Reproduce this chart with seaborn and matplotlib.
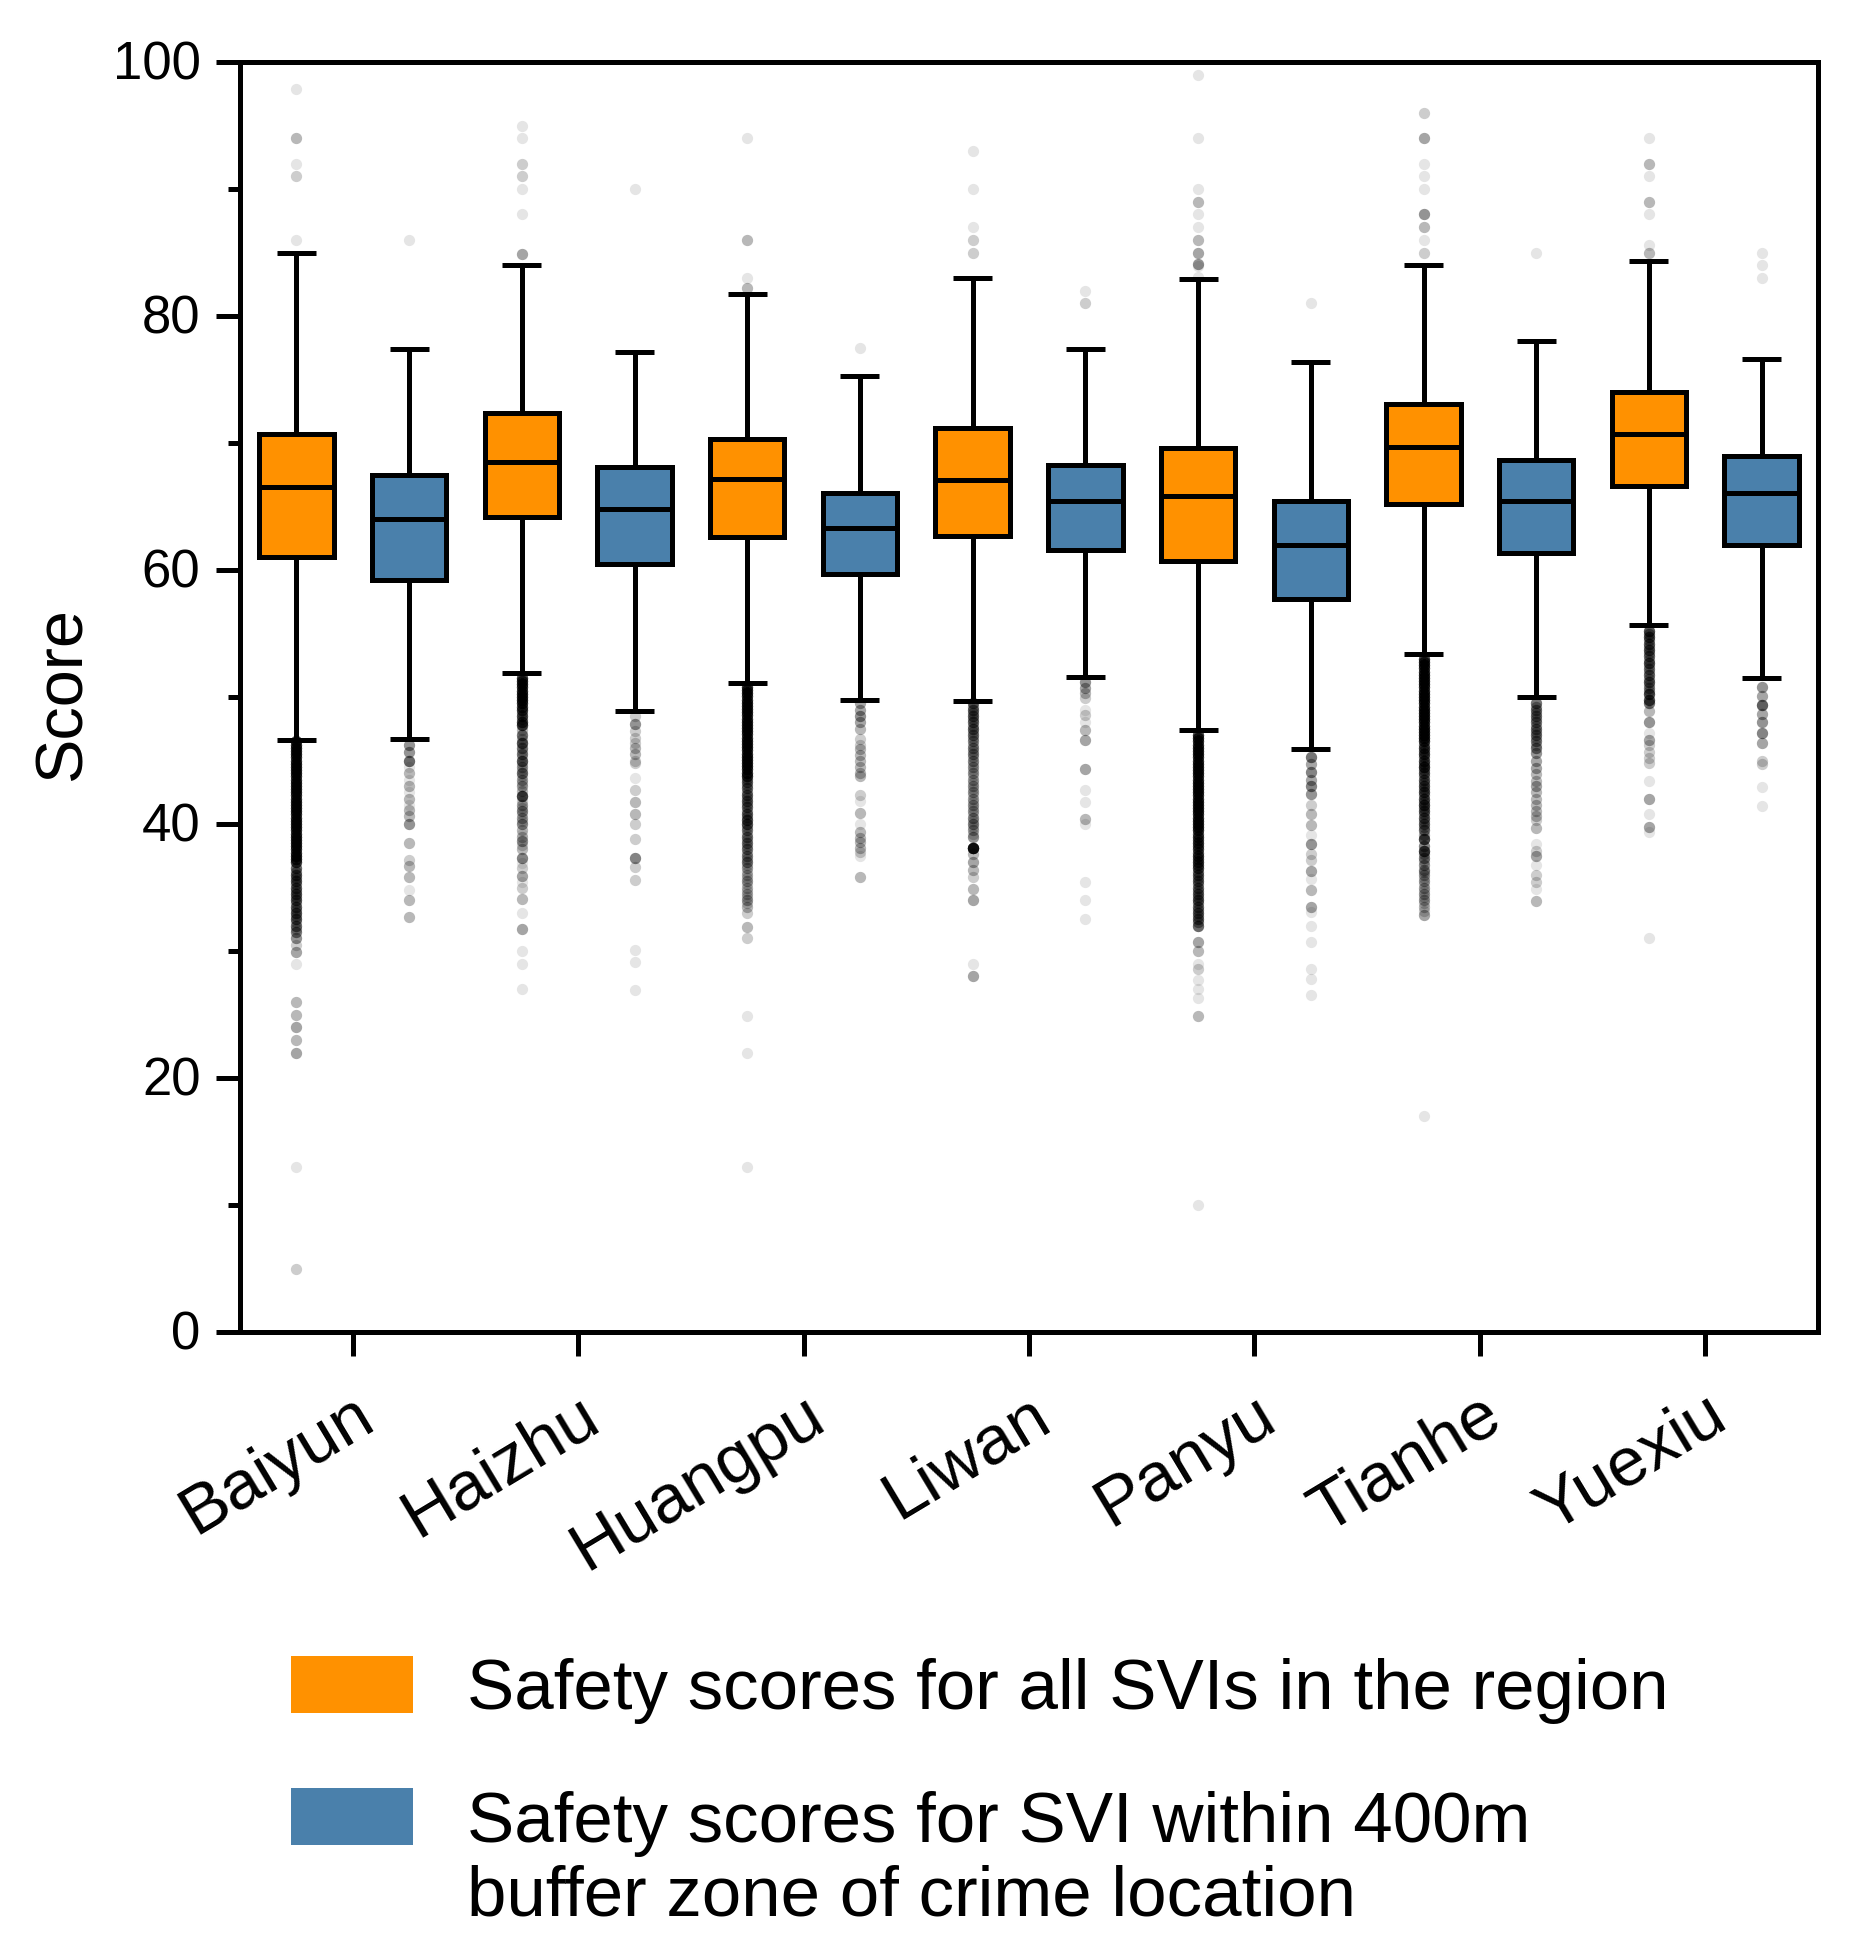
import numpy as np
import pandas as pd
import matplotlib
matplotlib.use("Agg")
import matplotlib.pyplot as plt
from matplotlib.patches import Patch
from matplotlib.ticker import MultipleLocator
from matplotlib.transforms import ScaledTranslation
import seaborn as sns

districts = ["Baiyun", "Haizhu", "Huangpu", "Liwan", "Panyu", "Tianhe", "Yuexiu"]
groups = ["all", "buffer"]
labels = ["Safety scores for all SVIs in the region",
          "Safety scores for SVI within 400m\nbuffer zone of crime location"]
colors = ["#FF9100", "#4A80AB"]

all_hi = [85.0, 84.0, 81.7, 83.0, 82.9, 84.0, 84.3]
all_q3 = [70.7, 72.4, 70.3, 71.2, 69.6, 73.1, 74.0]
all_med = [66.5, 68.5, 67.2, 67.1, 65.8, 69.7, 70.7]
all_q1 = [61.0, 64.2, 62.6, 62.7, 60.7, 65.2, 66.6]
all_lo = [46.6, 51.9, 51.1, 49.7, 47.4, 53.4, 55.7]

buf_hi = [77.4, 77.2, 75.3, 77.4, 76.4, 78.0, 76.6]
buf_q3 = [67.5, 68.1, 66.1, 68.3, 65.4, 68.7, 69.0]
buf_med = [64.0, 64.8, 63.3, 65.4, 62.0, 65.4, 66.1]
buf_q1 = [59.2, 60.5, 59.7, 61.6, 57.7, 61.3, 62.0]
buf_lo = [46.7, 48.9, 49.8, 51.6, 45.9, 50.0, 51.5]

# (score, number of overlapping points) read from the density of each dot
out_baiyun_all = [(97.9,1),(94,3),(92,1),(91,2),(86,1),
    (46.5,12),(46.25,12),(46,12),(45.75,12),(45.5,12),(45.25,12),(45,12),(44.75,12),(44.5,12),(44.25,12),
    (44,12),(43.75,12),(43.5,12),(43.25,12),(43,12),(42.75,12),(42.5,12),(42.25,12),(42,12),(41.75,12),
    (41.5,12),(41.25,12),(41,12),(40.75,12),(40.5,12),(40.25,12),(40,12),(39.75,12),(39.5,12),(39.25,12),
    (39,12),(38.75,12),(38.5,12),(38.25,12),(38,12),(37.75,12),(37.5,12),(37.25,12),(37,12),
    (36.5,8),(36.25,5),(36,8),(35.75,5),(35.5,8),(35.25,5),(35,8),(34.75,5),(34.5,8),(34.25,5),(34,8),(33.75,4),
    (33.5,8),(33.25,4),(33,8),(32.75,4),(32.5,8),(32.25,3),(32,7),(31.75,3),(31.5,6),
    (31,5),(30.5,2),(29.9,4),(29,1),(26,3),(25,3),(24,4),(23,3),(22,4),(13,1),(5,2)]
out_baiyun_buf = [(86,1),(46.2,5),(45.7,5),(45,8),(44.5,1),(44,3),(43.5,1),(43,3),(42.5,1),(42,3),(41.5,1),(41.1,3),(40.6,3),(40,5),
    (38.5,3),(37.2,2),(36.7,3),(35.8,3),(34.8,1),(34,3),(32.7,3)]
out_haizhu_all = [(95,1),(94,1),(92,2),(91,2),(90,1),(88,1),(84.9,4),
    (51.5,12),(51.25,12),(51,12),(50.75,12),(50.5,12),(50.25,12),(50,12),(49.75,12),(49.5,12),(49.25,10),
    (49,10),(48.75,4),(48.5,9),(48.25,4),(48,10),(47.8,12),(47.4,3),(47,7),(46.7,3),(46.4,10),
    (46,6),(45.75,2),(45.5,6),(45.25,2),(45,9),(44.75,2),(44.5,4),(44.25,2),(44,7),(43.75,2),(43.5,4),(43.25,2),(43,4),(42.6,3),(42.2,12),
    (41.8,2),(41.5,4),(41.25,2),(41,5),(40.75,2),(40.5,4),(40.25,2),(40,5),
    (39.5,3),(39.25,1),(39,3),(38.7,5),(38.35,2),(38,3),(37.3,6),(36.9,1),(36.5,2),(35.9,4),(35.45,1),(35,2),(34.1,3),(33,1),(31.7,4),(30,1),(29,1),(27,1)]
out_haizhu_buf = [(90,1),(48.5,2),(47.9,5),(47.3,2),(46.8,2),(46.4,2),(46,3),(45.5,3),(45,2),(44.8,2),
    (43.6,1),(42.7,2),(41.7,3),(40.8,3),(40,2),(38.8,2),(37.3,6),(36.6,2),(35.6,2),(30.1,1),(29.1,1),(26.9,1)]
out_huangpu_all = [(94,1),(86,3),(83,1),(82.2,3),
    (50.8,12),(50.55,12),(50.3,12),(50.05,12),(49.8,12),(49.55,12),(49.3,12),(49.05,12),(48.8,12),(48.55,12),
    (48.3,12),(48.05,12),(47.8,12),(47.55,12),(47.3,12),(47.05,12),(46.8,12),(46.55,12),(46.3,12),(46.05,12),
    (45.8,12),(45.55,12),(45.3,12),(45.05,12),(44.8,12),(44.55,12),(44.3,12),(44.05,12),
    (43.8,12),(43.55,5),(43.3,7),(43.05,4),(42.8,7),(42.55,4),(42.3,7),(42.05,4),(41.8,7),(41.55,4),(41.3,7),(41.05,4),
    (40.8,7),(40.55,4),(40.3,9),(40,9),(39.75,3),(39.5,6),(39.25,3),(39,6),(38.75,3),(38.5,6),(38.25,3),(38,6),(37.75,3),
    (37.5,5),(37.25,3),(37,6),(36.75,2),(36.5,4),(36.25,2),(36,3),(35.75,2),(35.5,4),(35.25,2),
    (35,3),(34.75,2),(34.5,3),(34.25,2),(34,4),(33.75,2),(33.5,3),(33,2),(31.9,3),(31,2),(24.9,1),(22,1),(13,1)]
out_huangpu_buf = [(77.5,1),(49.5,4),(49,4),(48.5,5),(48,4),(47.5,3),(46.7,2),(46.2,2),(45.9,3),(45.4,3),
    (45,3),(44.5,3),(44,3),(43.8,3),(42.3,2),(41.8,1),(40.9,3),(40,1),(39.4,3),(38.9,3),(38.6,3),(38.1,3),
    (37.8,2),(37.5,1),(35.8,3)]
out_liwan_all = [(93,1),(90,1),(87,1),(86,2),(85,2),
    (49.5,7),(49.25,4),(49,7),(48.75,4),(48.5,7),(48.25,4),(48,7),(47.75,4),(47.5,7),(47.25,3),(47,6),(46.75,3),(46.5,5),(46.25,3),
    (46,5),(45.75,3),(45.5,5),(45.25,3),(45,5),(44.75,2),(44.5,4),(44.25,2),(44,4),
    (43.75,2),(43.5,4),(43.25,2),(43,4),(42.75,2),(42.5,4),(42.25,2),(42,4),(41.75,2),(41.5,4),(41.25,2),(41,4),(40.75,2),(40.5,5),(40.25,2),
    (40,5),(39.75,2),(39.5,4),(39.25,2),(39,5),(38.1,25),
    (37.6,3),(37,4),(36.4,3),(35.8,2),(34.9,3),(34,4),(29,1),(28,4)]
out_liwan_buf = [(82,1),(81,2),(51.2,5),(50.7,4),(50.3,3),(49.9,2),(49,1),(48.6,2),(48,1),(47.4,3),(46.6,4),
    (44.3,4),(42.7,1),(41.7,1),(40.4,3),(40,1),(35.4,1),(34,1),(32.5,1)]
out_panyu_all = [(99,1),(94,1),(90,1),(89,3),(88,1),(87,1),(86,3),(85,4),(84.1,5),(83.9,1),(83.1,1),
    (47,12),(46.75,12),(46.5,12),(46.25,12),(46,12),(45.75,12),(45.5,12),(45.25,12),(45,12),(44.75,12),
    (44.5,12),(44.25,12),(44,12),(43.75,12),(43.5,12),(43.25,12),(43,12),(42.75,12),(42.5,12),(42.25,12),
    (42,12),(41.75,12),(41.5,12),(41.25,12),(41,12),(40.75,12),(40.5,12),(40.25,12),(40,12),(39.75,12),
    (39.5,12),(39.25,8),(39,10),(38.75,8),(38.5,10),(38.25,8),(38,10),(37.75,8),(37.5,10),(37.25,8),(37,10),(36.75,8),(36.5,10),(36.25,6),
    (36,7),(35.75,5),(35.5,7),(35.25,5),(35,7),(34.75,5),(34.5,7),(34.25,5),(34,8),(33.75,5),(33.5,7),(33.25,5),(33,7),(32.75,5),(32.5,7),(32.25,5),
    (32,8),(30.7,4),(30,3),(29,1),(28.6,2),
    (27.7,1),(27,1),(26.3,1),(24.9,3),(10,1)]
out_panyu_buf = [(81,1),(45.3,7),(44.7,4),(44.1,6),(43.5,4),(43,6),(42.4,5),(41.5,2),(40.8,3),(39.9,3),(39.1,1),
    (38.4,5),(37.6,2),(37.2,2),(36.3,4),(35.7,1),(34.8,3),(33.5,4),(33.1,1),(32,1),(30.7,1),(28.6,1),(27.8,1),(26.5,1)]
out_tianhe_all = [(96,2),(94,4),(92,1),(91,1),(90,1),(88,5),(87,3),(86,1),(85,2),
    (53,12),(52.75,12),(52.5,12),(52.25,12),(52,12),(51.75,12),(51.5,12),(51.25,12),(51,12),(50.75,12),
    (50.5,12),(50.25,12),(50,12),(49.75,12),(49.5,12),(49.25,12),(49,12),(48.75,12),(48.5,12),(48.25,12),
    (48,12),(47.75,12),(47.5,12),(47.25,12),(47,12),(46.75,12),
    (46.5,12),(46.25,6),(46,10),(45.75,6),(45.5,10),(45.25,6),(45,10),(44.75,6),(44.5,12),(44.25,5),(44,8),(43.75,5),(43.5,8),(43.25,5),(43,8),(42.75,5),
    (42.5,9),(42.25,5),(42,9),(41.75,5),(41.5,10),(41.25,5),(41,8),(40.75,5),(40.5,8),(40.25,4),(40,7),(39.75,4),(39.5,7),(39.15,4),(38.8,12),
    (38.3,6),(37.9,12),(37.6,4),(37.3,6),(37.05,3),(36.8,5),(36.4,5),(36.2,3),
    (36,4),(35.75,2),(35.5,4),(35.25,2),(35,4),(34.75,2),(34.5,4),(34.25,2),(34,4),(33.75,2),(33.5,3),(33.15,2),(32.8,4),(17,1)]
out_tianhe_buf = [(85,1),(49.5,7),(49.25,4),(49,6),(48.75,4),(48.5,6),(48.25,4),(48,6),(47.75,4),(47.5,6),(47.25,4),(47,6),(46.75,3),(46.5,6),(46.25,3),(46,6),
    (45.6,5),(45,4),(44.4,4),
    (43.9,3),(43.4,3),(43,4),(42.5,3),(42,3),(41.5,3),(41,3),(40.6,3),(40.3,2),(39.7,3),(38.4,1),(37.9,2),(37.5,4),
    (36.8,1),(36,2),(35.4,2),(34.9,1),(33.9,3)]
out_yuexiu_all = [(94,1),(92,3),(91,1),(89,3),(88,1),(85.6,1),(85,3),
    (55.2,10),(54.95,5),(54.7,9),(54.45,5),(54.2,8),(53.95,4),(53.7,8),(53.45,4),(53.2,7),(52.95,4),(52.7,9),(52.45,3),(52.2,6),(51.95,3),
    (51.7,7),(51.45,4),(51.2,8),(50.95,3),(50.7,5),(50.45,4),(50.2,10),
    (49.8,10),(49.5,7),(48.9,3),(48,5),(47.2,1),(46.6,4),(46.2,2),(45.7,2),(45.2,2),(44.8,2),(43.4,1),(42,4),
    (40.8,1),(39.8,4),(39.4,1),(31,1)]
out_yuexiu_buf = [(85,1),(84,1),(83,1),(50.8,5),(50.1,4),(49.4,9),(48.7,4),(48,5),(47.2,6),(46.4,4),
    (45,2),(44.7,2),(42.9,1),(41.4,1)]

out_all = [out_baiyun_all, out_haizhu_all, out_huangpu_all, out_liwan_all,
           out_panyu_all, out_tianhe_all, out_yuexiu_all]
out_buf = [out_baiyun_buf, out_haizhu_buf, out_huangpu_buf, out_liwan_buf,
           out_panyu_buf, out_tianhe_buf, out_yuexiu_buf]

sns.set_theme(style="white")
plt.rcParams["font.family"] = ["Liberation Sans", "DejaVu Sans"]
plt.rcParams["text.color"] = "black"
plt.rcParams["axes.labelcolor"] = "black"
plt.rcParams["xtick.color"] = "black"
plt.rcParams["ytick.color"] = "black"

DPI = 100
W, H = 1858, 1947
L, R, T, B = 240, 1818, 62, 1332
LW = 3.6

box_rows = []
for i, d in enumerate(districts):
    for v in (all_lo[i], all_q1[i], all_med[i], all_q3[i], all_hi[i]):
        box_rows.append((d, groups[0], v))
    for v in (buf_lo[i], buf_q1[i], buf_med[i], buf_q3[i], buf_hi[i]):
        box_rows.append((d, groups[1], v))
box_df = pd.DataFrame(box_rows, columns=["district", "group", "score"])

out_rows = []
for i in range(len(districts)):
    for off, series in ((-0.25, out_all[i]), (0.25, out_buf[i])):
        for v, n in series:
            out_rows.extend([(i + off, v)] * n)
out_df = pd.DataFrame(out_rows, columns=["pos", "score"])

fig = plt.figure(figsize=(W / DPI, H / DPI), dpi=DPI, facecolor="white")
ax = fig.add_axes([L / W, 1 - B / H, (R - L) / W, (B - T) / H])

sns.stripplot(data=out_df, x="pos", y="score", native_scale=True, jitter=False,
              color="black", alpha=0.1, size=8.1, linewidth=0, zorder=1, ax=ax)

line_kw = dict(solid_capstyle="butt")
sns.boxplot(data=box_df, x="district", y="score", hue="group", order=districts,
            hue_order=groups, palette=colors, saturation=1, width=1.0, gap=0.34,
            whis=(0, 100), showfliers=False, linecolor="black", linewidth=LW,
            capwidths=0.173, legend=False, ax=ax,
            whiskerprops=line_kw, capprops=line_kw, zorder=2)

ax.set_xlim(-0.5, 6.5)
ax.set_ylim(0, 100)
ax.set_xlabel("")
ax.set_ylabel("Score", fontsize=48)
ax.yaxis.set_label_coords(-0.092, 0.502)
ax.yaxis.set_major_locator(MultipleLocator(20))
ax.yaxis.set_minor_locator(MultipleLocator(10))
ax.tick_params(axis="y", which="major", length=17.5, width=LW, labelsize=38, pad=11, left=True, color="black")
ax.tick_params(axis="y", which="minor", length=8.6, width=LW, left=True, color="black")
ax.tick_params(axis="x", which="major", length=17.5, width=LW, labelsize=50, pad=19, bottom=True, color="black")
for s in ax.spines.values():
    s.set_linewidth(LW)
    s.set_color("black")
    s.set_visible(True)
ax.set_xticks(range(len(districts)))
ax.set_xticklabels(districts, rotation=31, ha="right")
shift = ScaledTranslation(32 / DPI, 0, fig.dpi_scale_trans)
for t in ax.get_xticklabels():
    t.set_transform(t.get_transform() + shift)
lift = ScaledTranslation(0, 2.5 / DPI, fig.dpi_scale_trans)
for t in ax.get_yticklabels():
    t.set_transform(t.get_transform() + lift)

handles = [Patch(facecolor=c, edgecolor="none") for c in colors]
leg = fig.legend(handles, labels, loc="upper left", bbox_to_anchor=(291 / W, 1 - 1656 / H),
                 frameon=False, fontsize=51, handlelength=1.72, handleheight=0.862,
                 handletextpad=0.77, labelspacing=0.94, borderpad=0, borderaxespad=0,
                 labelcolor="black")
for t in leg.get_texts():
    t.set_linespacing(1.147)
rect = leg.get_patches()[1]
rect.set_y(rect.get_y() + 32)

fig.savefig("out.png", dpi=DPI, facecolor="white")
